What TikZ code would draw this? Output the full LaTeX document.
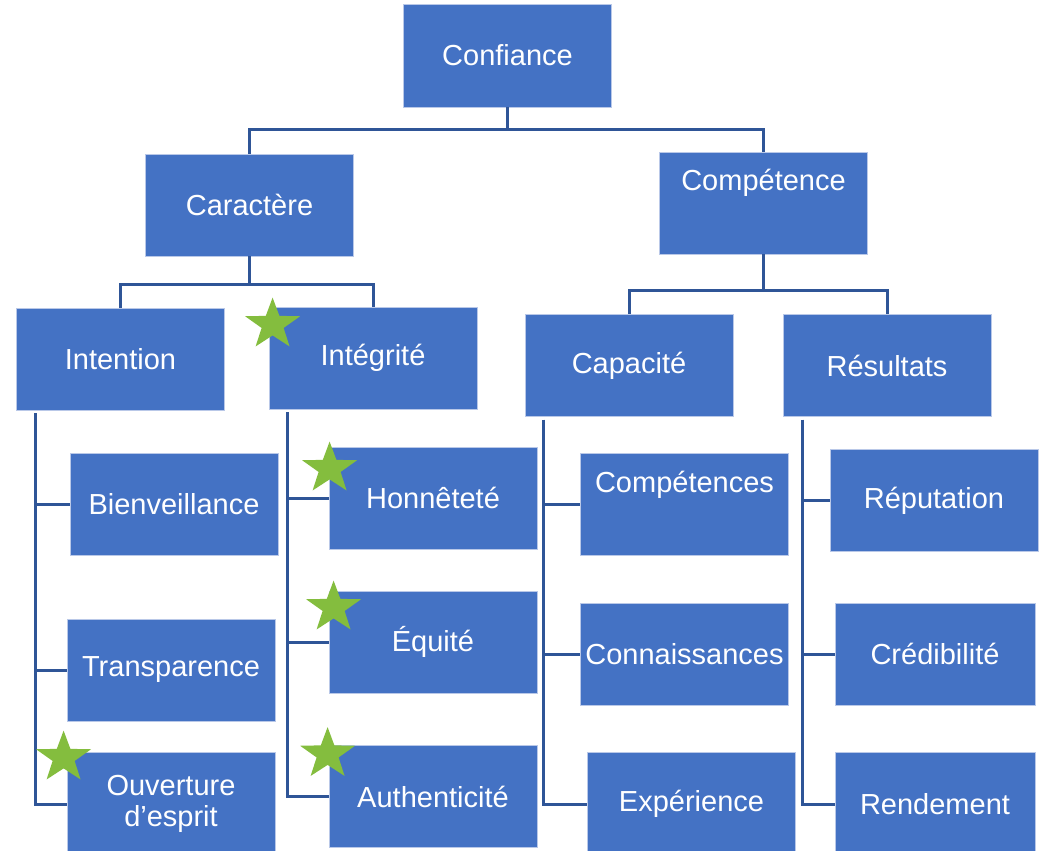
\documentclass[tikz,border=0pt]{standalone}
\usepackage{fontspec}
\setmainfont{Liberation Sans}
\usetikzlibrary{shapes.geometric,calc}
\definecolor{boxblue}{RGB}{68,114,196}
\definecolor{boxedge}{RGB}{185,200,232}
\definecolor{linkblue}{RGB}{47,85,151}
\definecolor{stargreen}{RGB}{132,189,62}
\begin{document}
\begin{tikzpicture}[x=1pt,y=-1pt,
  box/.style={rectangle, fill=boxblue, draw=boxedge, line width=0.8pt,
    minimum width=208pt, minimum height=102pt, inner sep=0pt,
    text=white, font=\fontsize{29}{31}\selectfont, align=center},
  narrow/.style={minimum width=200pt},
  toptext/.style={label={[text=white, font=\fontsize{29}{31}\selectfont, yshift=20pt]center:#1}},
  link/.style={draw=linkblue, line width=3pt},
  badge/.style={star, star points=5, star point ratio=2.5, minimum size=54pt,
    inner sep=0pt, fill=stargreen, draw=none, xscale=1.07, transform shape}]
\fill[white] (0,0) rectangle (1039,851);
\clip (0,0) rectangle (1039,851);

% top levels
\node[box, minimum height=103pt] (conf) at (507.5,55.5) {Confiance};
\node[box] (car) at (249.5,205) {Caractère};
\node[box, toptext=Compétence] (cpt) at (763.5,203) {};
\node[box] (int) at (120.5,359) {Intention};
\node[box] (itg) at (373,358) {Intégrité};
\node[box] (cap) at (629,365.5) {Capacité};
\node[box] (res) at (887,365.5) {Résultats};

% leaves
\node[box] (ben) at (174,504.5) {Bienveillance};
\node[box] (tra) at (171,670) {Transparence};
\node[box, minimum height=104pt] (ouv) at (171,804) {Ouverture\\d’esprit};
\node[box] (hon) at (433,498) {Honnêteté};
\node[box] (equ) at (433,642) {Équité};
\node[box] (aut) at (433,796.5) {Authenticité};
\node[box, toptext=Compétences] (cps) at (684.5,504.5) {};
\node[box] (con) at (684.5,654) {Connaissances};
\node[box, minimum height=104pt] (exp) at (691.5,804) {Expérience};
\node[box] (rep) at (934,500.5) {Réputation};
\node[box, narrow] (cre) at (935,654) {Crédibilité};
\node[box, narrow, minimum height=104pt] (ren) at (935,804) {Rendement};

% tree connectors
\draw[link] (conf.south) -- ++(0,22) -| (car.north);
\draw[link] (conf.south) -- ++(0,22) -| (cpt.north);
\draw[link] (car.south) -- ++(0,28) -| (int.north);
\draw[link] (car.south) -- ++(0,28) -| (itg.north);
\draw[link] (cpt.south) -- ++(0,36) -| (cap.north);
\draw[link] (cpt.south) -- ++(0,36) -| (res.north);

\coordinate (intx) at ($(int.south west)+(19,3)$);
\coordinate (itgx) at ($(itg.south west)+(19,3)$);
\coordinate (capx) at ($(cap.south west)+(19,3)$);
\coordinate (resx) at ($(res.south west)+(20,3)$);
\foreach \p/\c in {intx/ben, intx/tra, intx/ouv,
                   itgx/hon, itgx/equ, itgx/aut,
                   capx/cps, capx/con, capx/exp,
                   resx/rep, resx/cre, resx/ren}
  \draw[link] (\p) |- (\c.west);

% green stars
\node[badge] (s1) at ($(itg.north west)+(4,18)$) {};
\node[badge] (s2) at ($(hon.north west)+(1,22)$) {};
\node[badge] (s3) at ($(equ.north west)+(5,17)$) {};
\node[badge] (s4) at ($(aut.north west)+(-1,9)$) {};
\node[badge] (s5) at ($(ouv.north west)+(-3,6)$) {};
\end{tikzpicture}
\end{document}
